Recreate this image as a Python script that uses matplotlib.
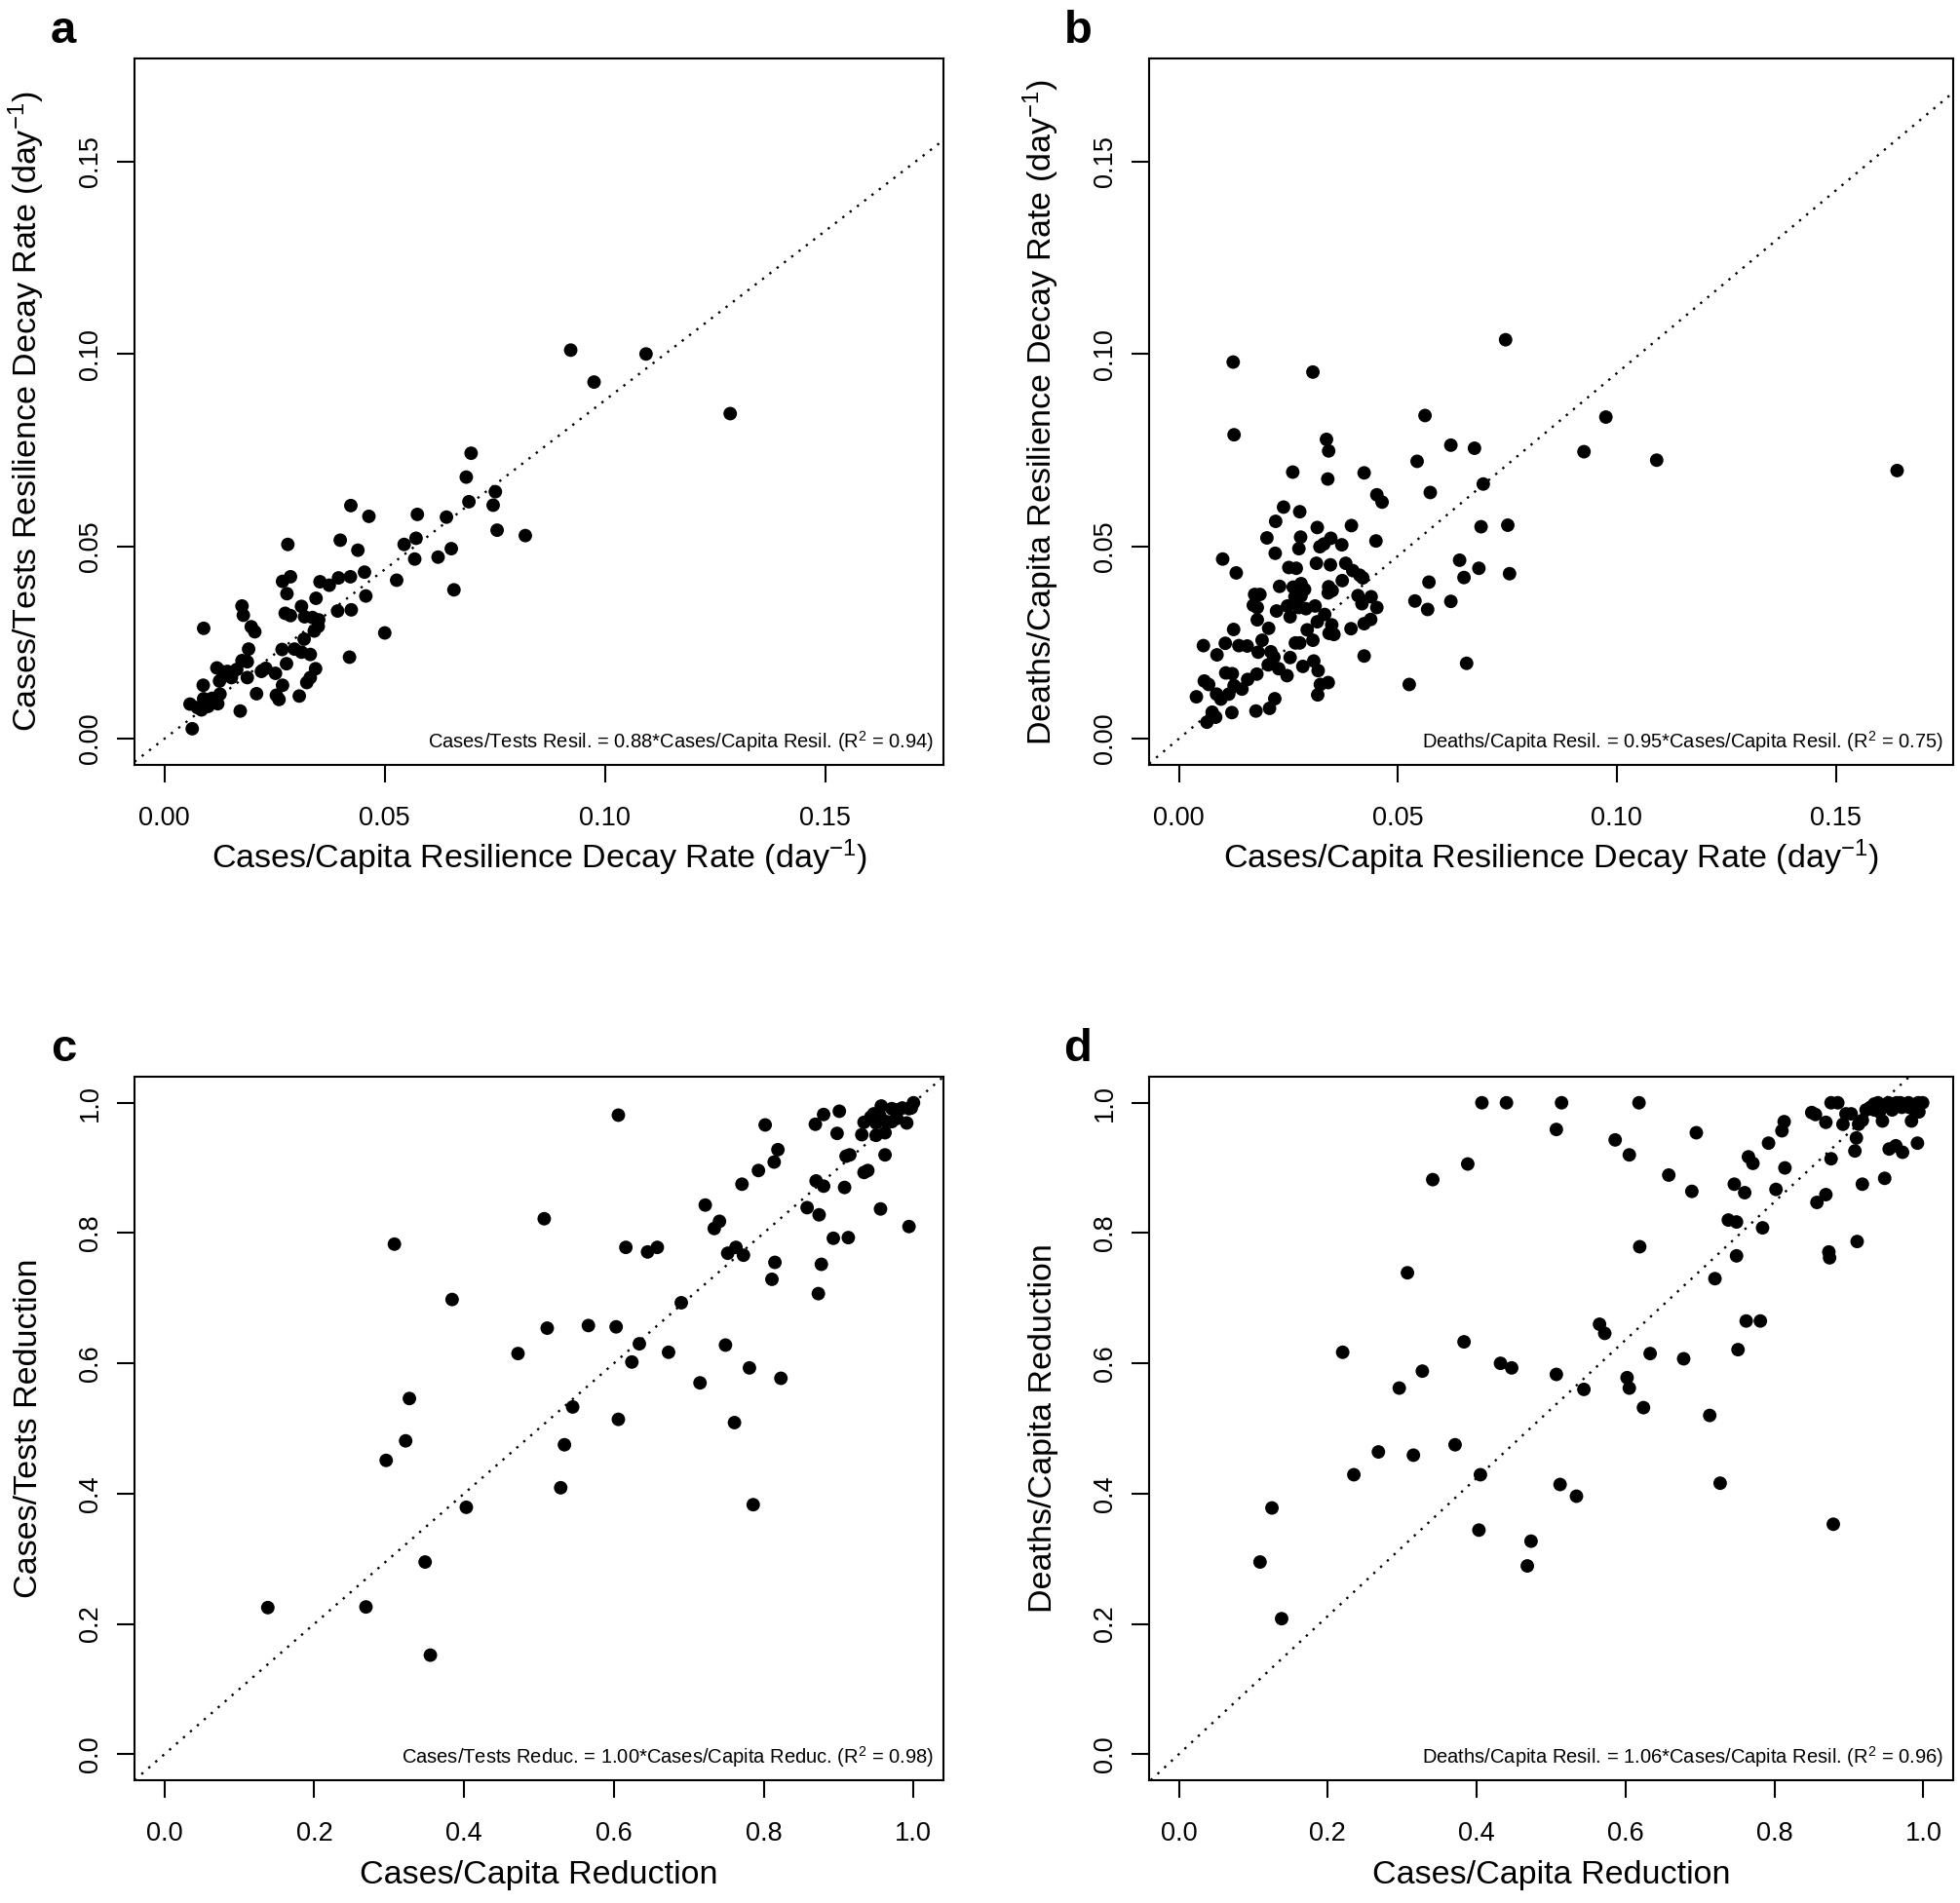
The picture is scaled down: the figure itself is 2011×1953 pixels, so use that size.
import numpy as np
import matplotlib
matplotlib.use("Agg")
import matplotlib.pyplot as plt

plt.rcParams['font.family'] = ['Liberation Sans', 'DejaVu Sans']
plt.rcParams['mathtext.fontset'] = 'custom'
plt.rcParams['mathtext.rm'] = 'Liberation Sans'
plt.rcParams['mathtext.it'] = 'Liberation Sans:italic'

# panel a: cases/capita vs cases/tests resilience decay rate
a_x = [0.0922, 0.1093, 0.0975, 0.1284, 0.0696, 0.0685, 0.0691, 0.0751, 0.0746, 0.0755,
       0.0819, 0.0423, 0.0464, 0.0574, 0.0640, 0.0399, 0.0439, 0.0544, 0.0571, 0.0568,
       0.0621, 0.0651, 0.0657, 0.0527, 0.0280, 0.0454, 0.0422, 0.0395, 0.0374, 0.0353,
       0.0286, 0.0268, 0.0278, 0.0344, 0.0457, 0.0424, 0.0393, 0.0500, 0.0420, 0.0176,
       0.0179, 0.0197, 0.0205, 0.0089, 0.0274, 0.0286, 0.0311, 0.0318, 0.0336, 0.0350,
       0.0349, 0.0340, 0.0317, 0.0267, 0.0295, 0.0311, 0.0331, 0.0277, 0.0343, 0.0331,
       0.0323, 0.0268, 0.0306, 0.0254, 0.0260, 0.0191, 0.0176, 0.0188, 0.0188, 0.0220,
       0.0230, 0.0252, 0.0209, 0.0172, 0.0119, 0.0132, 0.0143, 0.0152, 0.0125, 0.0088,
       0.0126, 0.0121, 0.0108, 0.0099, 0.0089, 0.0084, 0.0075, 0.0058, 0.0063, 0.0164]
a_y = [0.1010, 0.1000, 0.0927, 0.0845, 0.0742, 0.0680, 0.0616, 0.0642, 0.0607, 0.0542,
       0.0528, 0.0606, 0.0578, 0.0583, 0.0576, 0.0516, 0.0490, 0.0505, 0.0521, 0.0467,
       0.0472, 0.0494, 0.0387, 0.0412, 0.0505, 0.0433, 0.0421, 0.0418, 0.0399, 0.0408,
       0.0421, 0.0409, 0.0377, 0.0365, 0.0371, 0.0335, 0.0332, 0.0275, 0.0212, 0.0345,
       0.0321, 0.0291, 0.0278, 0.0287, 0.0326, 0.0320, 0.0344, 0.0317, 0.0315, 0.0309,
       0.0292, 0.0280, 0.0259, 0.0232, 0.0233, 0.0225, 0.0219, 0.0195, 0.0182, 0.0159,
       0.0146, 0.0139, 0.0111, 0.0113, 0.0102, 0.0233, 0.0203, 0.0200, 0.0159, 0.0175,
       0.0183, 0.0170, 0.0117, 0.0072, 0.0184, 0.0174, 0.0175, 0.0159, 0.0150, 0.0139,
       0.0116, 0.0091, 0.0105, 0.0084, 0.0104, 0.0075, 0.0081, 0.0090, 0.0026, 0.0180]

# panel b: cases/capita vs deaths/capita resilience decay rate
b_x = [0.0124, 0.0746, 0.0306, 0.0562, 0.0975, 0.0126, 0.0337, 0.0342, 0.0621, 0.0675,
       0.0925, 0.1091, 0.1640, 0.0544, 0.0260, 0.0423, 0.0340, 0.0574, 0.0695, 0.0452,
       0.0464, 0.0239, 0.0276, 0.0221, 0.0316, 0.0394, 0.0690, 0.0751, 0.0201, 0.0278,
       0.0347, 0.0331, 0.0322, 0.0372, 0.0274, 0.0220, 0.0450, 0.0100, 0.0131, 0.0251,
       0.0268, 0.0314, 0.0346, 0.0381, 0.0397, 0.0413, 0.0420, 0.0641, 0.0685, 0.0755,
       0.0651, 0.0571, 0.0230, 0.0261, 0.0279, 0.0270, 0.0287, 0.0342, 0.0350, 0.0341,
       0.0373, 0.0265, 0.0279, 0.0173, 0.0185, 0.0170, 0.0179, 0.0223, 0.0248, 0.0274,
       0.0290, 0.0311, 0.0254, 0.0333, 0.0316, 0.0409, 0.0439, 0.0418, 0.0452, 0.0539,
       0.0568, 0.0621, 0.0438, 0.0423, 0.0179, 0.0205, 0.0125, 0.0293, 0.0349, 0.0343,
       0.0354, 0.0393, 0.0056, 0.0106, 0.0137, 0.0156, 0.0190, 0.0181, 0.0210, 0.0217,
       0.0266, 0.0276, 0.0306, 0.0087, 0.0254, 0.0423, 0.0657, 0.0204, 0.0228, 0.0247,
       0.0283, 0.0308, 0.0318, 0.0107, 0.0122, 0.0178, 0.0157, 0.0058, 0.0068, 0.0086,
       0.0126, 0.0144, 0.0114, 0.0096, 0.0040, 0.0323, 0.0341, 0.0317, 0.0526, 0.0219,
       0.0176, 0.0207, 0.0121, 0.0076, 0.0084, 0.0064]
b_y = [0.0979, 0.1037, 0.0953, 0.0840, 0.0836, 0.0790, 0.0778, 0.0748, 0.0763, 0.0755,
       0.0746, 0.0724, 0.0697, 0.0721, 0.0693, 0.0691, 0.0675, 0.0640, 0.0662, 0.0634,
       0.0615, 0.0602, 0.0590, 0.0565, 0.0549, 0.0554, 0.0551, 0.0555, 0.0522, 0.0524,
       0.0521, 0.0506, 0.0499, 0.0504, 0.0494, 0.0482, 0.0514, 0.0467, 0.0431, 0.0445,
       0.0443, 0.0456, 0.0452, 0.0456, 0.0437, 0.0425, 0.0418, 0.0464, 0.0443, 0.0429,
       0.0419, 0.0407, 0.0396, 0.0394, 0.0403, 0.0383, 0.0388, 0.0395, 0.0385, 0.0379,
       0.0411, 0.0369, 0.0371, 0.0375, 0.0375, 0.0347, 0.0341, 0.0332, 0.0345, 0.0341,
       0.0338, 0.0345, 0.0317, 0.0323, 0.0304, 0.0372, 0.0369, 0.0351, 0.0341, 0.0358,
       0.0336, 0.0357, 0.0310, 0.0299, 0.0309, 0.0287, 0.0284, 0.0283, 0.0296, 0.0274,
       0.0271, 0.0286, 0.0242, 0.0248, 0.0242, 0.0241, 0.0256, 0.0225, 0.0226, 0.0212,
       0.0249, 0.0249, 0.0256, 0.0218, 0.0211, 0.0215, 0.0196, 0.0192, 0.0182, 0.0164,
       0.0188, 0.0202, 0.0177, 0.0171, 0.0169, 0.0168, 0.0154, 0.0150, 0.0141, 0.0116,
       0.0138, 0.0129, 0.0116, 0.0103, 0.0109, 0.0141, 0.0146, 0.0114, 0.0141, 0.0104,
       0.0072, 0.0079, 0.0068, 0.0069, 0.0056, 0.0043]

# panel c: cases/capita vs cases/tests reduction
c_x = [0.606, 0.307, 0.507, 0.384, 0.327, 0.322, 0.296, 0.403, 0.348, 0.138,
       0.269, 0.355, 0.472, 0.511, 0.566, 0.603, 0.616, 0.645, 0.658, 0.690,
       0.634, 0.624, 0.673, 0.545, 0.606, 0.534, 0.529, 0.715, 0.749, 0.761,
       0.781, 0.786, 0.823, 0.811, 0.815, 0.722, 0.741, 0.734, 0.752, 0.763,
       0.773, 0.771, 0.793, 0.814, 0.819, 0.802, 0.858, 0.874, 0.877, 0.873,
       0.893, 0.913, 0.994, 0.956, 0.870, 0.880, 0.908, 0.934, 0.939, 0.962,
       0.910, 0.915, 0.869, 0.880, 0.901, 0.898, 0.931, 0.950, 0.962, 0.934,
       0.943, 0.947, 0.957, 0.971, 0.978, 0.985, 0.991, 0.994, 1.000, 0.997,
       0.964, 0.971, 0.950, 0.978, 0.955]
c_y = [0.981, 0.783, 0.822, 0.698, 0.546, 0.481, 0.451, 0.379, 0.295, 0.225,
       0.226, 0.152, 0.615, 0.654, 0.658, 0.656, 0.778, 0.771, 0.778, 0.693,
       0.630, 0.602, 0.617, 0.533, 0.514, 0.475, 0.409, 0.570, 0.628, 0.509,
       0.593, 0.383, 0.577, 0.729, 0.755, 0.843, 0.818, 0.807, 0.769, 0.778,
       0.766, 0.875, 0.896, 0.909, 0.928, 0.966, 0.839, 0.828, 0.752, 0.707,
       0.792, 0.793, 0.810, 0.837, 0.880, 0.872, 0.870, 0.893, 0.896, 0.920,
       0.918, 0.920, 0.967, 0.982, 0.987, 0.953, 0.951, 0.950, 0.954, 0.970,
       0.978, 0.983, 0.995, 0.991, 0.989, 0.992, 0.969, 0.991, 1.000, 0.992,
       0.971, 0.971, 0.969, 0.976, 0.980]

# panel d: cases/capita vs deaths/capita reduction
d_x = [0.407, 0.440, 0.514, 0.618, 0.507, 0.586, 0.605, 0.695, 0.388, 0.341,
       0.658, 0.689, 0.746, 0.760, 0.765, 0.771, 0.792, 0.810, 0.813, 0.814,
       0.802, 0.738, 0.749, 0.784, 0.619, 0.749, 0.720, 0.307, 0.762, 0.781,
       0.565, 0.572, 0.383, 0.220, 0.633, 0.678, 0.751, 0.432, 0.447, 0.327,
       0.507, 0.602, 0.605, 0.544, 0.296, 0.624, 0.713, 0.371, 0.268, 0.315,
       0.235, 0.405, 0.512, 0.534, 0.727, 0.125, 0.403, 0.473, 0.468, 0.109,
       0.138, 0.879, 0.873, 0.874, 0.911, 0.857, 0.869, 0.876, 0.918, 0.948,
       0.908, 0.910, 0.954, 0.963, 0.972, 0.992, 0.850, 0.855, 0.869, 0.876,
       0.885, 0.892, 0.896, 0.903, 0.913, 0.918, 0.923, 0.929, 0.934, 0.939,
       0.945, 0.949, 0.953, 0.958, 0.964, 0.969, 0.974, 0.980, 0.984, 0.988,
       0.993, 0.999, 0.994, 0.934, 0.941, 0.959, 0.971, 0.981]
d_y = [1.000, 1.000, 1.000, 1.000, 0.959, 0.943, 0.920, 0.954, 0.906, 0.882,
       0.889, 0.864, 0.875, 0.862, 0.917, 0.907, 0.938, 0.957, 0.971, 0.900,
       0.867, 0.820, 0.817, 0.808, 0.779, 0.765, 0.730, 0.739, 0.665, 0.665,
       0.660, 0.646, 0.633, 0.617, 0.615, 0.607, 0.621, 0.600, 0.593, 0.588,
       0.583, 0.578, 0.562, 0.560, 0.562, 0.532, 0.520, 0.475, 0.464, 0.459,
       0.429, 0.429, 0.414, 0.396, 0.416, 0.378, 0.344, 0.327, 0.289, 0.295,
       0.208, 0.353, 0.771, 0.762, 0.787, 0.847, 0.859, 0.914, 0.875, 0.884,
       0.926, 0.946, 0.929, 0.934, 0.924, 0.938, 0.985, 0.982, 0.970, 1.000,
       1.000, 0.967, 0.983, 0.983, 0.967, 0.973, 0.989, 0.993, 0.998, 1.000,
       0.972, 0.996, 1.000, 0.989, 1.000, 1.000, 0.996, 1.000, 0.972, 0.989,
       1.000, 1.000, 0.986, 0.989, 0.986, 0.996, 0.993, 0.993]

panels = [
    dict(letter='a', x=a_x, y=a_y, slope=0.88, lim=(0, 0.17),
         ticks=[0.00, 0.05, 0.10, 0.15], fmt='{:.2f}',
         xlabel='Cases/Capita Resilience Decay Rate (day$^{-1}$)',
         ylabel='Cases/Tests Resilience Decay Rate (day$^{-1}$)',
         eq='Cases/Tests Resil. = 0.88*Cases/Capita Resil. (R$^2$ = 0.94)'),
    dict(letter='b', x=b_x, y=b_y, slope=0.95, lim=(0, 0.17),
         ticks=[0.00, 0.05, 0.10, 0.15], fmt='{:.2f}',
         xlabel='Cases/Capita Resilience Decay Rate (day$^{-1}$)',
         ylabel='Deaths/Capita Resilience Decay Rate (day$^{-1}$)',
         eq='Deaths/Capita Resil. = 0.95*Cases/Capita Resil. (R$^2$ = 0.75)'),
    dict(letter='c', x=c_x, y=c_y, slope=1.00, lim=(0, 1),
         ticks=[0.0, 0.2, 0.4, 0.6, 0.8, 1.0], fmt='{:.1f}',
         xlabel='Cases/Capita Reduction',
         ylabel='Cases/Tests Reduction',
         eq='Cases/Tests Reduc. = 1.00*Cases/Capita Reduc. (R$^2$ = 0.98)'),
    dict(letter='d', x=d_x, y=d_y, slope=1.06, lim=(0, 1),
         ticks=[0.0, 0.2, 0.4, 0.6, 0.8, 1.0], fmt='{:.1f}',
         xlabel='Cases/Capita Reduction',
         ylabel='Deaths/Capita Reduction',
         eq='Deaths/Capita Resil. = 1.06*Cases/Capita Resil. (R$^2$ = 0.96)'),
]

W, H = 2011, 1953
fig = plt.figure(figsize=(W / 100, H / 100), dpi=100)

# axes boxes in pixels: left, top, width, height
boxes = [(138, 60, 830, 725), (1179, 60, 825, 725),
         (138, 1105, 830, 722), (1179, 1105, 825, 722)]

for p, (l, t, w, h) in zip(panels, boxes):
    ax = fig.add_axes([l / W, 1 - (t + h) / H, w / W, h / H])
    lo, hi = p['lim']
    pad = 0.04 * (hi - lo)
    ax.set_xlim(lo - pad, hi + pad)
    ax.set_ylim(lo - pad, hi + pad)

    ax.scatter(p['x'], p['y'], s=100, color='black', edgecolors='none', zorder=3)
    ax.axline((0, 0), slope=p['slope'], color='black', lw=1.7,
              linestyle=(0, (1, 3)), zorder=2)

    ax.set_xticks(p['ticks'])
    ax.set_yticks(p['ticks'])
    ax.set_xticklabels([p['fmt'].format(v) for v in p['ticks']])
    ax.set_yticklabels([p['fmt'].format(v) for v in p['ticks']],
                       rotation=90, va='center')
    ax.tick_params(direction='out', length=12.7, width=1.5, labelsize=19.5)
    ax.tick_params(axis='x', pad=17.4)
    ax.tick_params(axis='y', pad=10.5)
    for s in ax.spines.values():
        s.set_linewidth(1.5)

    ax.set_xlabel(p['xlabel'], fontsize=24.5, va='baseline')
    ax.set_ylabel(p['ylabel'], fontsize=24.5, va='baseline')
    ax.xaxis.set_label_coords(0.5, -106 / h)
    ax.yaxis.set_label_coords(-100 / w, 0.5)

    ax.text(1 - 10 / w, 17 / h, p['eq'], transform=ax.transAxes, ha='right',
            va='baseline', fontsize=14.5)

    fig.text((l - 73) / W, 1 - (t - 28) / H, p['letter'], fontsize=34,
             fontweight='bold', ha='center', va='center')

fig.savefig('out.png', dpi=100)
